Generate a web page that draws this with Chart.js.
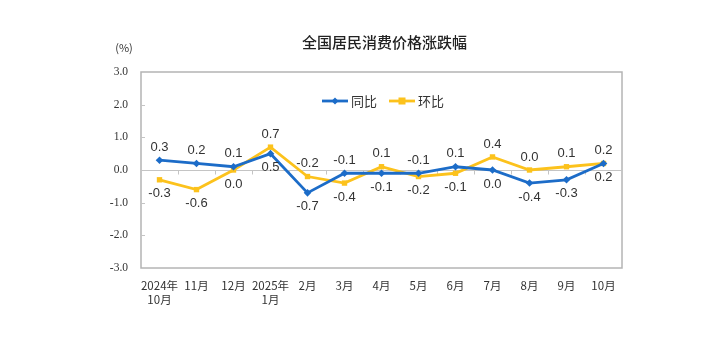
<!DOCTYPE html>
<html>
<head>
<meta charset="utf-8">
<script src="https://cdn.jsdelivr.net/npm/chart.js@4/dist/chart.umd.min.js"></script>
<style>
  html, body { margin: 0; padding: 0; background: #fff; }
  #wrap { width: 720px; height: 348px; }
</style>
</head>
<body>
<div id="wrap"><canvas id="cpiChart" width="720" height="348"></canvas></div>
<script>
const months = [
  ["2024年", "10月"], "11月", "12月", ["2025年", "1月"], "2月", "3月", "4月",
  "5月", "6月", "7月", "8月", "9月", "10月"
];
const yoy = [0.3, 0.2, 0.1, 0.5, -0.7, -0.1, -0.1, -0.1, 0.1, 0.0, -0.4, -0.3, 0.2];
const mom = [-0.3, -0.6, 0.0, 0.7, -0.2, -0.4, 0.1, -0.2, -0.1, 0.4, 0.0, 0.1, 0.2];
const yTicks = [-3, -2, -1, 0, 1, 2, 3];

const BLUE = "#1c6cc8";
const YELLOW = "#fcc21c";
const TEXT = "#333";

// frame, zero line, value labels, title and legend
const decor = {
  id: "decor",
  beforeDatasetsDraw(chart) {
    const { ctx, chartArea: a, scales: { x, y } } = chart;
    ctx.save();
    ctx.strokeStyle = "#b4b4b4";
    ctx.lineWidth = 1.5;
    ctx.strokeRect(a.left, a.top, a.right - a.left, a.bottom - a.top);
    const y0 = Math.round(y.getPixelForValue(0)) + 0.5;
    ctx.strokeStyle = "#c4c4c4";
    ctx.lineWidth = 1;
    ctx.beginPath();
    ctx.moveTo(a.left, y0);
    ctx.lineTo(a.right, y0);
    const step = x.getPixelForValue(1) - x.getPixelForValue(0);
    for (let i = 1; i < months.length; i++) {
      const px = Math.round(x.getPixelForValue(i) - step / 2) + 0.5;
      ctx.moveTo(px, y0);
      ctx.lineTo(px, y0 + 4);
    }
    yTicks.forEach(v => {
      if (v === 0 || v === 3 || v === -3) return;
      const py = Math.round(y.getPixelForValue(v)) + 0.5;
      ctx.moveTo(a.left, py);
      ctx.lineTo(a.left + 4, py);
    });
    ctx.stroke();
    ctx.restore();
  },
  afterDraw(chart) {
    const { ctx, chartArea: a } = chart;
    const metaY = chart.getDatasetMeta(0).data;
    const metaM = chart.getDatasetMeta(1).data;
    ctx.save();
    ctx.fillStyle = TEXT;
    ctx.font = "13px 'Liberation Sans', Arial, sans-serif";
    ctx.textAlign = "center";
    ctx.textBaseline = "middle";
    for (let i = 0; i < yoy.length; i++) {
      const momUp = mom[i] >= yoy[i];
      const up = momUp ? metaM[i] : metaY[i];
      const dn = momUp ? metaY[i] : metaM[i];
      const upV = momUp ? mom[i] : yoy[i];
      const dnV = momUp ? yoy[i] : mom[i];
      ctx.fillText(upV.toFixed(1), up.x, up.y - 13);
      ctx.fillText(dnV.toFixed(1), dn.x, dn.y + 14);
    }

    // title
    const cx = (a.left + a.right) / 2 + 3;
    ctx.font = "500 15px 'Noto Sans CJK SC', sans-serif";
    ctx.fillStyle = "#222";
    ctx.fillText("全国居民消费价格涨跌幅", cx, 42);

    // unit
    ctx.font = "11px 'Noto Sans CJK SC', sans-serif";
    ctx.fillStyle = TEXT;
    ctx.fillText("(%)", 124, 48);

    // legend
    const ly = 101;
    const items = [
      { label: "同比", color: BLUE, x: 322, style: "diamond" },
      { label: "环比", color: YELLOW, x: 389, style: "square" }
    ];
    items.forEach(it => {
      ctx.strokeStyle = it.color;
      ctx.lineWidth = 2.8;
      ctx.beginPath();
      ctx.moveTo(it.x, ly);
      ctx.lineTo(it.x + 26, ly);
      ctx.stroke();
      ctx.fillStyle = it.color;
      const mx = it.x + 13;
      if (it.style === "diamond") {
        ctx.beginPath();
        ctx.moveTo(mx, ly - 3.5);
        ctx.lineTo(mx + 3.5, ly);
        ctx.lineTo(mx, ly + 3.5);
        ctx.lineTo(mx - 3.5, ly);
        ctx.closePath();
        ctx.fill();
      } else {
        ctx.fillRect(mx - 3.5, ly - 3.5, 7, 7);
      }
      ctx.fillStyle = TEXT;
      ctx.textAlign = "left";
      ctx.font = "13px 'Noto Sans CJK SC', sans-serif";
      ctx.fillText(it.label, it.x + 29, ly);
    });
    ctx.restore();
  }
};

new Chart(document.getElementById("cpiChart"), {
  type: "line",
  data: {
    labels: months,
    datasets: [
      {
        label: "同比",
        data: yoy,
        borderColor: BLUE,
        backgroundColor: BLUE,
        borderWidth: 2.8,
        pointStyle: "rectRot",
        pointRadius: 3.8,
        pointBorderWidth: 0,
        tension: 0
      },
      {
        label: "环比",
        data: mom,
        borderColor: YELLOW,
        backgroundColor: YELLOW,
        borderWidth: 2.8,
        pointStyle: "rect",
        pointRadius: 3.8,
        pointBorderWidth: 0,
        tension: 0
      }
    ]
  },
  options: {
    responsive: false,
    animation: false,
    layout: { padding: { top: 72, right: 98, left: 0, bottom: 0 } },
    plugins: {
      legend: { display: false },
      title: { display: false },
      tooltip: { enabled: false }
    },
    scales: {
      x: {
        offset: true,
        grid: { display: false },
        border: { display: false },
        ticks: {
          color: TEXT,
          font: { family: "'Noto Sans CJK SC', sans-serif", size: 11.5 },
          padding: 3,
          maxRotation: 0,
          autoSkip: false
        },
        afterFit(scale) { scale.height = 80; }
      },
      y: {
        min: -3,
        max: 3,
        grid: { display: false, drawTicks: false },
        border: { display: false },
        afterBuildTicks(scale) { scale.ticks = yTicks.map(v => ({ value: v })); },
        ticks: {
          color: TEXT,
          font: { family: "'Liberation Serif', serif", size: 11.5 },
          padding: 13,
          callback: v => v.toFixed(1)
        },
        afterFit(scale) { scale.width = 141; }
      }
    }
  },
  plugins: [decor]
});
</script>
</body>
</html>
